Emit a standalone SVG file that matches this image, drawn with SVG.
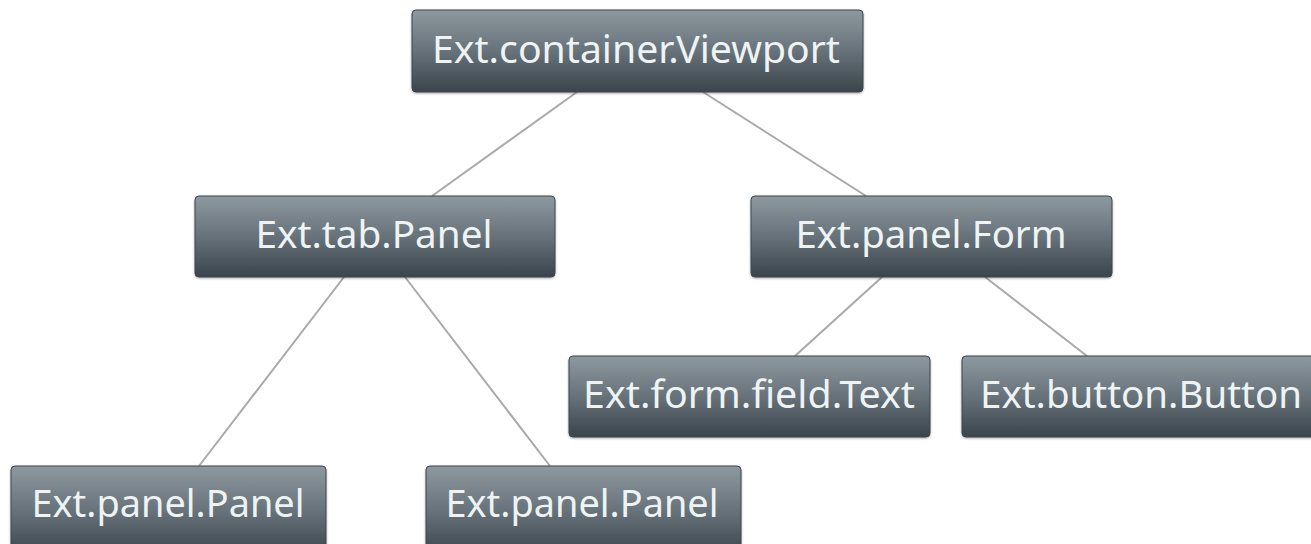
<svg xmlns="http://www.w3.org/2000/svg" width="1311" height="544" viewBox="0 0 1311 544">
<defs>
<linearGradient id="g" x1="0" y1="0" x2="0" y2="1">
<stop offset="0" stop-color="#8d989f"/>
<stop offset="0.5" stop-color="#67727a"/>
<stop offset="1" stop-color="#3a444b"/>
</linearGradient>
<filter id="sh" x="-5%" y="-10%" width="110%" height="130%">
<feDropShadow dx="0" dy="1" stdDeviation="1.2" flood-color="#000" flood-opacity="0.35"/>
</filter>
</defs>
<style>
.box{fill:url(#g);stroke:#3e474d;stroke-width:1;filter:url(#sh)}
.lbl{font-family:"Noto Sans","DejaVu Sans",sans-serif;font-size:38px;fill:#eef3f3;text-anchor:middle}
.edge{stroke:#a9a9a9;stroke-width:2;fill:none}
</style>
<rect width="1311" height="544" fill="#ffffff"/>
<g id="connectors">
<line class="edge" x1="577" y1="92" x2="432" y2="196"/>
<line class="edge" x1="703" y1="92" x2="866" y2="196"/>
<line class="edge" x1="344" y1="277" x2="199" y2="466"/>
<line class="edge" x1="405" y1="277" x2="550" y2="466"/>
<line class="edge" x1="882" y1="277" x2="795" y2="356"/>
<line class="edge" x1="985" y1="277" x2="1087" y2="356"/>
</g>
<g id="viewport">
<rect class="box" x="412" y="10" width="451" height="82" rx="4"/>
<text class="lbl" x="636" y="63" textLength="408" lengthAdjust="spacingAndGlyphs">Ext.container.Viewport</text>
</g>
<g id="tabpanel">
<rect class="box" x="195" y="196" width="360" height="81" rx="4"/>
<text class="lbl" x="374" y="248" textLength="237" lengthAdjust="spacingAndGlyphs">Ext.tab.Panel</text>
</g>
<g id="panelform">
<rect class="box" x="751" y="196" width="361" height="81" rx="4"/>
<text class="lbl" x="931" y="248" textLength="271" lengthAdjust="spacingAndGlyphs">Ext.panel.Form</text>
</g>
<g id="fieldtext">
<rect class="box" x="569" y="356" width="361" height="81" rx="4"/>
<text class="lbl" x="749" y="408" textLength="332" lengthAdjust="spacingAndGlyphs">Ext.form.field.Text</text>
</g>
<g id="button">
<rect class="box" x="962" y="356" width="358" height="81" rx="4"/>
<text class="lbl" x="1141" y="408" textLength="322" lengthAdjust="spacingAndGlyphs">Ext.button.Button</text>
</g>
<g id="panel1">
<rect class="box" x="11" y="466" width="315" height="90" rx="4"/>
<text class="lbl" x="168" y="517" textLength="273" lengthAdjust="spacingAndGlyphs">Ext.panel.Panel</text>
</g>
<g id="panel2">
<rect class="box" x="426" y="466" width="315" height="90" rx="4"/>
<text class="lbl" x="582" y="517" textLength="273" lengthAdjust="spacingAndGlyphs">Ext.panel.Panel</text>
</g>
</svg>
